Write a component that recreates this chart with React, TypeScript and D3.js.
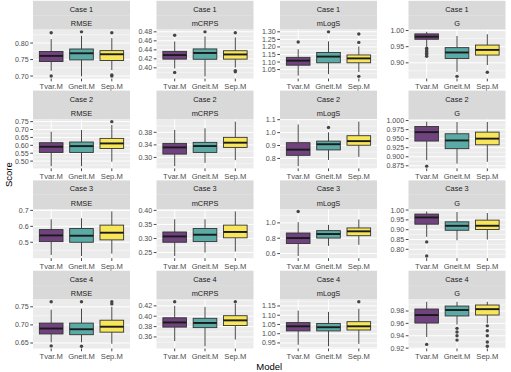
import React from "react";
import * as d3 from "d3";

const cases = ["Case 1", "Case 2", "Case 3", "Case 4"];
const metrics = ["RMSE", "mCRPS", "mLogS", "G"];
const models = ["Tvar.M", "Gneit.M", "Sep.M"];
const modelColors = ["#70437F", "#5AAAA6", "#F7E55A"];

// box stats per panel (metric order) and model: [lowWhisker, q1, median, q3, highWhisker]
const case1Boxes = [
  [[0.716, 0.744, 0.761, 0.7745, 0.812], [0.699, 0.749, 0.769, 0.782, 0.822], [0.718, 0.747, 0.766, 0.777, 0.815]],
  [[0.3986, 0.4193, 0.4283, 0.4366, 0.4586], [0.381, 0.419, 0.433, 0.442, 0.4697], [0.4007, 0.4193, 0.4297, 0.438, 0.4676]],
  [[1.01, 1.079, 1.109, 1.131, 1.185], [1.02, 1.095, 1.136, 1.163, 1.237], [1.034, 1.095, 1.124, 1.147, 1.203]],
  [[0.95, 0.973, 0.981, 0.9896, 0.996], [0.872, 0.9135, 0.932, 0.947, 0.983], [0.893, 0.924, 0.94, 0.955, 0.9885]],
];
const case2Boxes = [
  [[0.468, 0.555, 0.591, 0.6165, 0.6864], [0.468, 0.555, 0.595, 0.621, 0.697], [0.496, 0.58, 0.612, 0.644, 0.729]],
  [[0.2723, 0.3107, 0.332, 0.3448, 0.3875], [0.283, 0.316, 0.3363, 0.348, 0.3928], [0.2915, 0.332, 0.347, 0.364, 0.414]],
  [[0.74, 0.824, 0.868, 0.922, 1.063], [0.788, 0.866, 0.91, 0.934, 1.002], [0.812, 0.902, 0.934, 0.976, 1.085]],
  [[0.8905, 0.9434, 0.968, 0.9836, 0.997], [0.881, 0.9224, 0.945, 0.9635, 0.996], [0.886, 0.933, 0.95, 0.968, 0.996]],
];
const case3Boxes = [
  [[0.4204, 0.504, 0.543, 0.5796, 0.644], [0.414, 0.5, 0.541, 0.586, 0.6505], [0.429, 0.515, 0.56, 0.6075, 0.6935]],
  [[0.2378, 0.2866, 0.3073, 0.3232, 0.3683], [0.25, 0.289, 0.3134, 0.3354, 0.3683], [0.2537, 0.3024, 0.3232, 0.3476, 0.3963]],
  [[0.569, 0.732, 0.802, 0.868, 1.009], [0.701, 0.802, 0.855, 0.899, 0.974], [0.714, 0.833, 0.89, 0.934, 1.044]],
  [[0.8632, 0.928, 0.9624, 0.9795, 0.993], [0.846, 0.897, 0.9197, 0.94, 0.99], [0.8496, 0.901, 0.92, 0.9487, 0.985]],
];
const case4Boxes = [
  [[0.652, 0.675, 0.69, 0.705, 0.742], [0.652, 0.673, 0.688, 0.705, 0.745], [0.648, 0.68, 0.695, 0.713, 0.75]],
  [[0.352, 0.379, 0.388, 0.397, 0.42], [0.342, 0.378, 0.387, 0.396, 0.418], [0.355, 0.382, 0.392, 0.401, 0.424]],
  [[0.94, 1.015, 1.04, 1.06, 1.125], [0.932, 1.015, 1.035, 1.055, 1.118], [0.945, 1.02, 1.04, 1.065, 1.135]],
  [[0.938, 0.9605, 0.9735, 0.9832, 0.995], [0.958, 0.972, 0.9816, 0.988, 0.995], [0.96, 0.9735, 0.983, 0.9897, 0.995]],
];

// outliers per panel and model
const case1Outliers = [
  [[0.831, 0.70], [0.834], [0.831, 0.703, 0.70]],
  [[0.4724, 0.3897], [0.48], [0.478, 0.3938, 0.391]],
  [[1.2324], [1.30], [1.286, 1.23, 1.005]],
  [[0.945, 0.94, 0.935, 0.93, 0.925, 0.92], [0.858], [0.871]],
];
const case2Outliers = [
  [[], [], [0.75]],
  [[], [], []],
  [[], [1.039], []],
  [[0.874], [], []],
];
const case3Outliers = [
  [[], [], []],
  [[], [], []],
  [[1.149], [], []],
  [[0.8376, 0.766], [], []],
];
const case4Outliers = [
  [[0.764, 0.642], [0.764, 0.641], [0.764, 0.758]],
  [[0.428], [], [0.428]],
  [[], [], [1.173]],
  [[0.926], [0.952, 0.946, 0.94, 0.933], [0.956, 0.948, 0.94, 0.93, 0.923]],
];

// y tick labels per panel
const case1Ticks = [["0.70", "0.75", "0.80"], ["0.40", "0.42", "0.44", "0.46", "0.48"], ["1.05", "1.10", "1.15", "1.20", "1.25", "1.30"], ["0.90", "0.95", "1.00"]];
const case2Ticks = [["0.50", "0.55", "0.60", "0.65", "0.70", "0.75"], ["0.30", "0.34", "0.38"], ["0.8", "0.9", "1.0", "1.1"], ["0.875", "0.900", "0.925", "0.950", "0.975", "1.000"]];
const case3Ticks = [["0.5", "0.6", "0.7"], ["0.25", "0.30", "0.35", "0.40"], ["0.6", "0.8", "1.0"], ["0.80", "0.85", "0.90", "0.95", "1.00"]];
const case4Ticks = [["0.65", "0.70", "0.75"], ["0.36", "0.38", "0.40", "0.42"], ["0.95", "1.00", "1.05", "1.10", "1.15"], ["0.92", "0.94", "0.96", "0.98"]];

const allBoxes = [case1Boxes, case2Boxes, case3Boxes, case4Boxes];
const allOutliers = [case1Outliers, case2Outliers, case3Outliers, case4Outliers];
const allTicks = [case1Ticks, case2Ticks, case3Ticks, case4Ticks];

const WIDTH = 511;
const HEIGHT = 372;
const colLeft = [33, 156.5, 280, 408.5];
const panelW = 97;
const panelTop = [29.6, 119.4, 209.2, 299.5];
const stripH = 14.4;
const panelH = 49;
const FONT = "'Liberation Sans', Arial, Helvetica, sans-serif";
const TICK_FS = 7.1;

function Panel({ r, c }: { r: number; c: number }) {
  const boxes = allBoxes[r][c];
  const outs = allOutliers[r][c];
  const ticksAll = allTicks[r][c].map(Number);
  const left = colLeft[c];
  const pt = panelTop[r];
  const top = pt - 2 * stripH;
  const pb = pt + panelH;
  const vals = [...boxes.flat(), ...outs.flat()];
  const lo = d3.min(vals) as number;
  const hi = d3.max(vals) as number;
  const pad = (hi - lo) * 0.05;
  const y = d3.scaleLinear().domain([lo - pad, hi + pad]).range([pb, pt]);
  const x = d3.scaleLinear().domain([0.4, 3.6]).range([left, left + panelW]);
  const inRange = (v: number) => v >= lo - pad - 1e-9 && v <= hi + pad + 1e-9;
  const tickIdx = ticksAll.map((v, i) => i).filter((i) => inRange(ticksAll[i]));
  const step = ticksAll[1] - ticksAll[0];
  const minors: number[] = [];
  for (let v = ticksAll[0] - step / 2; v <= hi + pad + 1e-9; v += step) {
    if (inRange(v)) minors.push(v);
  }
  const bw = 0.78;
  return (
    <g>
      <rect x={left} y={top} width={panelW} height={stripH} fill="#D9D9D9" />
      <rect x={left} y={top + stripH} width={panelW} height={stripH} fill="#D9D9D9" />
      <text x={left + panelW / 2} y={top + stripH / 2 + 1.3} dy="0.35em" textAnchor="middle" fontSize={7.4} fill="#1A1A1A">{cases[r]}</text>
      <text x={left + panelW / 2} y={top + stripH * 1.5 + 1.3} dy="0.35em" textAnchor="middle" fontSize={7.4} fill="#1A1A1A">{metrics[c]}</text>
      <rect x={left} y={pt} width={panelW} height={panelH} fill="#EBEBEB" />
      {minors.map((v, i) => (
        <line key={"mi" + i} x1={left} x2={left + panelW} y1={y(v)} y2={y(v)} stroke="#fff" strokeWidth={0.5} />
      ))}
      {tickIdx.map((i) => (
        <line key={"ma" + i} x1={left} x2={left + panelW} y1={y(ticksAll[i])} y2={y(ticksAll[i])} stroke="#fff" strokeWidth={1} />
      ))}
      {models.map((m, i) => (
        <line key={"xg" + i} x1={x(i + 1)} x2={x(i + 1)} y1={pt} y2={pb} stroke="#fff" strokeWidth={1} />
      ))}
      {boxes.map((b, i) => {
        const cx = x(i + 1);
        const hw = (x(1 + bw / 2) - x(1 - bw / 2)) / 2;
        return (
          <g key={"b" + i}>
            <line x1={cx} x2={cx} y1={y(b[0])} y2={y(b[1])} stroke="#333" strokeWidth={0.9} />
            <line x1={cx} x2={cx} y1={y(b[3])} y2={y(b[4])} stroke="#333" strokeWidth={0.9} />
            <rect x={cx - hw} y={y(b[3])} width={2 * hw} height={y(b[1]) - y(b[3])} fill={modelColors[i]} stroke="#333" strokeWidth={0.9} />
            <line x1={cx - hw} x2={cx + hw} y1={y(b[2])} y2={y(b[2])} stroke="#1a1a1a" strokeWidth={1.9} />
            {outs[i].map((o, j) => (
              <circle key={j} cx={cx} cy={y(o)} r={1.7} fill="#444" />
            ))}
          </g>
        );
      })}
      {tickIdx.map((i) => (
        <g key={"yt" + i}>
          <line x1={left - 2.75} x2={left} y1={y(ticksAll[i])} y2={y(ticksAll[i])} stroke="#333" strokeWidth={0.9} />
          <text x={left - 4.3} y={y(ticksAll[i])} dy="0.35em" textAnchor="end" fontSize={TICK_FS} fill="#4D4D4D">{allTicks[r][c][i]}</text>
        </g>
      ))}
      {models.map((m, i) => (
        <g key={"xt" + i}>
          <line x1={x(i + 1)} x2={x(i + 1)} y1={pb} y2={pb + 2.75} stroke="#333" strokeWidth={0.9} />
          <text x={x(i + 1)} y={pb + 4.8} dy="0.75em" textAnchor="middle" fontSize={7.6} fill="#4D4D4D">{m}</text>
        </g>
      ))}
    </g>
  );
}

export default function App() {
  const midX = (colLeft[0] + colLeft[3] + panelW) / 2;
  const midY = (panelTop[0] - 2 * stripH + panelTop[3] + panelH) / 2;
  return (
    <svg width={WIDTH} height={HEIGHT} style={{ position: "absolute", left: 0, top: 0, background: "#fff" }} fontFamily={FONT}>
      <rect width={WIDTH} height={HEIGHT} fill="#fff" />
      {cases.map((_, r) => metrics.map((_, c) => <Panel key={r + "-" + c} r={r} c={c} />))}
      <text x={9} y={midY} textAnchor="middle" dy="0.35em" fontSize={9.5} fill="#000" transform={`rotate(-90, 9, ${midY})`}>Score</text>
      <text x={midX} y={366.5} textAnchor="middle" dy="0.35em" fontSize={9.5} fill="#000">Model</text>
    </svg>
  );
}
